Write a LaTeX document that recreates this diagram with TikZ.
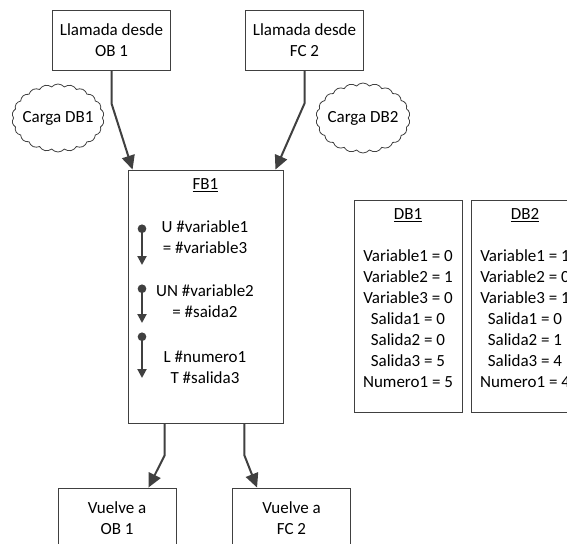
\documentclass[tikz,border=0pt]{standalone}
\usepackage{fontspec}
\setmainfont{Carlito}
\usetikzlibrary{arrows.meta,shapes.symbols}
\definecolor{gristrazo}{HTML}{404040}
\tikzset{
	caja/.style={draw=gristrazo, line width=0.9pt, minimum width=118pt, minimum height=60pt, align=center, inner sep=0pt},
	nube/.style={cloud, draw=gristrazo, line width=0.8pt, cloud puffs=22, cloud puff arc=100, cloud ignores aspect, minimum width=92pt, minimum height=68pt, inner sep=0pt},
	flecha/.style={draw=gristrazo, line width=2pt, -{Triangle[length=14pt,width=13pt]}},
	paso/.style={draw=gristrazo, line width=2pt, {Circle[length=8.5pt,width=8.5pt]}-{Triangle[length=9pt,width=9pt]}},
	texto/.style={align=center, inner sep=0pt}
}

\begin{document}
\begin{tikzpicture}[x=1pt, y=-1pt, font=\fontsize{17}{21}\selectfont, text=black]
			%%%%% START %%%%%
			\clip (0, 0) rectangle (567, 543);
			\fill[white] (0, 0) rectangle (567, 543);
			
			% llamadas
			\node[caja] (ob1) at (111.5, 40) {Llamada desde\\OB 1};
			\node[caja] (fc2) at (304.5, 40) {Llamada desde\\FC 2};
			
			% nubes
			\node[nube] (carga1) at (58, 118) {};
			\node[texto] (tcarga1) at (carga1) {Carga DB1};
			\node[nube, minimum width=94pt, minimum height=70pt] (carga2) at (363, 118) {};
			\node[texto] (tcarga2) at (carga2) {Carga DB2};
			
			% bloque FB1
			\node[caja, minimum width=155pt, minimum height=253pt] (fb1) at (205.5, 296.5) {};
			\node[texto] (tfb1) at (205.5, 185) {\underline{FB1}};
			\node[texto] (ins1) at (205, 237.5) {U \#variable1\\= \#variable3};
			\node[texto] (ins2) at (205, 301.5) {UN \#variable2\\= \#saida2};
			\node[texto] (ins3) at (205, 367.5) {L \#numero1\\T \#salida3};
			
			\coordinate (p1a) at (142, 224.5);
			\coordinate (p1b) at (142, 265);
			\coordinate (p2a) at (142, 284.5);
			\coordinate (p2b) at (142, 323);
			\coordinate (p3a) at (142, 332.5);
			\coordinate (p3b) at (142, 378);
			\draw[paso] (p1a) -- (p1b);
			\draw[paso] (p2a) -- (p2b);
			\draw[paso] (p3a) -- (p3b);
			
			% bloques de datos
			\node[caja, minimum width=108pt, minimum height=212pt] (db1) at (408, 306) {};
			\node[caja, minimum width=108pt, minimum height=212pt] (db2) at (525, 306) {};
			\node[texto, anchor=north] (tdb1) at ([yshift=-9pt]db1.north) {\underline{DB1}\\[21pt]Variable1 = 0\\Variable2 = 1\\Variable3 = 0\\Salida1 = 0\\Salida2 = 0\\Salida3 = 5\\Numero1 = 5};
			\node[texto, anchor=north] (tdb2) at ([yshift=-9pt]db2.north) {\underline{DB2}\\[21pt]Variable1 = 1\\Variable2 = 0\\Variable3 = 1\\Salida1 = 0\\Salida2 = 1\\Salida3 = 4\\Numero1 = 4};
			
			% retornos
			\node[caja] (vob1) at (117, 518) {Vuelve a\\OB 1};
			\node[caja] (vfc2) at (291.5, 518) {Vuelve a\\FC 2};
			
			% conexiones
			\draw[flecha] (ob1.south) -- ++(0, 33) -- ([xshift=5pt]fb1.north west);
			\draw[flecha] (fc2.south) -- ++(0, 33) -- ([xshift=-8pt]fb1.north east);
			\draw[flecha] ([xshift=37pt]fb1.south west) -- ++(0, 32) -- ([xshift=-28pt]vob1.north east);
			\draw[flecha] ([xshift=-39pt]fb1.south east) -- ++(0, 32) -- ([xshift=25pt]vfc2.north west);
			%%%%% END %%%%%
\end{tikzpicture}
\end{document}
